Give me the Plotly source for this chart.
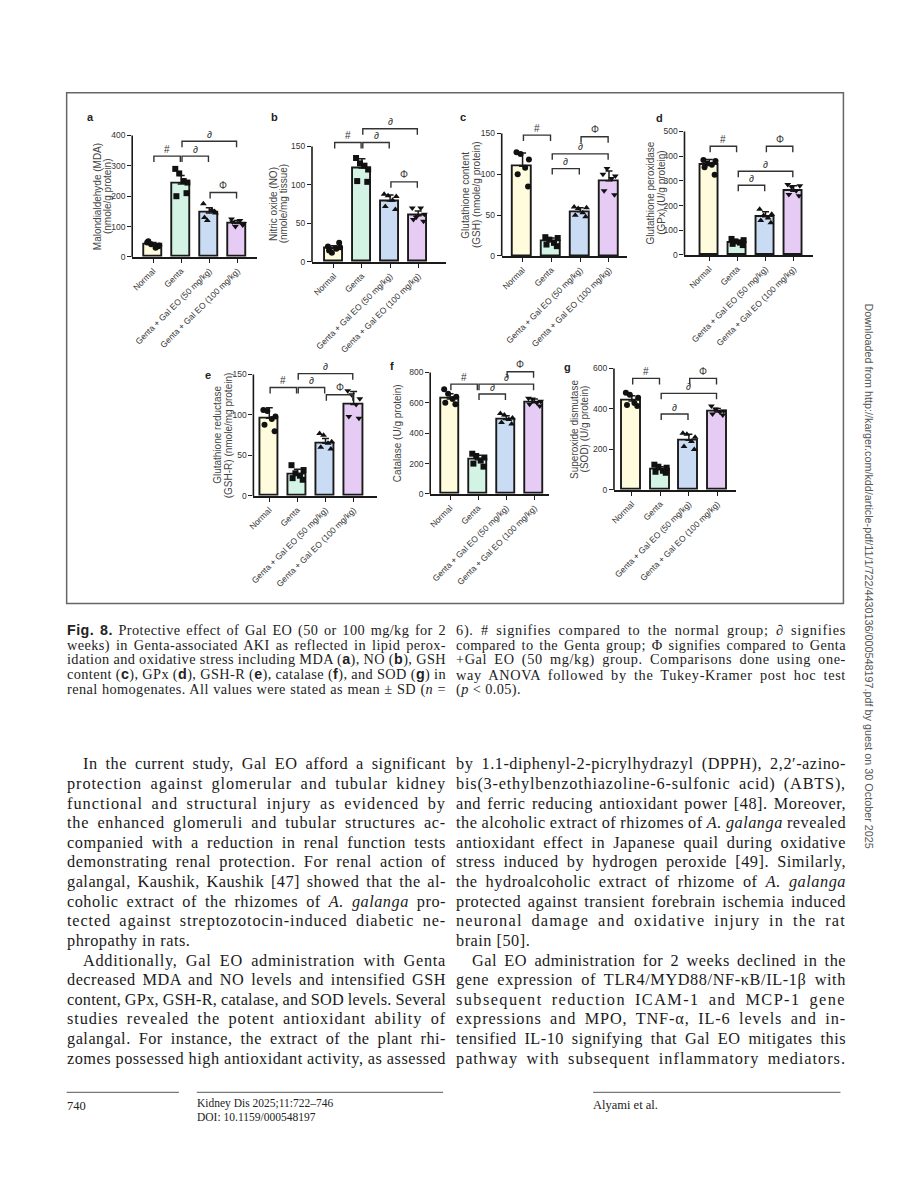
import json
import plotly.graph_objects as go
import numpy as np

W, H = 897, 1200

# ---------------- data ----------------
groups = ["Normal", "Genta", "Genta + Gal EO (50 mg/kg)", "Genta + Gal EO (100 mg/kg)"]
bar_colors = ["#FFFCDD", "#D3F4E5", "#CADBF4", "#E6CBF4"]
point_symbols = ["circle", "square", "triangle-up", "triangle-down"]

mda_mean = [40, 240, 145, 110]
mda_sd = [8, 28, 17, 10]
mda_pts = [[48, 35, 42, 30, 52, 38], [290, 210, 275, 250, 200, 245], [175, 150, 120, 155, 130, 145], [125, 105, 100, 120, 115, 110]]

no_mean = [17, 122, 79, 60]
no_sd = [4, 12, 8, 6]
no_pts = [[20, 25, 12, 17, 15, 19], [135, 104, 128, 125, 105, 120], [88, 68, 86, 80, 72, 85], [70, 53, 58, 70, 55, 62]]

gsh_mean = [110, 18, 54, 92]
gsh_sd = [16, 4, 5, 12]
gsh_pts = [[127, 85, 125, 108, 100, 118], [23, 12, 20, 16, 14, 22], [60, 48, 58, 53, 50, 59], [100, 75, 107, 95, 80, 98]]

gpx_mean = [365, 50, 155, 258]
gpx_sd = [22, 10, 20, 22]
gpx_pts = [[385, 325, 370, 365, 355, 380], [65, 40, 55, 50, 45, 60], [185, 130, 160, 150, 140, 165], [285, 240, 275, 260, 245, 280]]

gshr_mean = [96, 27, 65, 113]
gshr_sd = [13, 6, 6, 16]
gshr_pts = [[106, 80, 105, 95, 88, 98], [38, 20, 28, 25, 22, 32], [77, 58, 75, 65, 60, 67], [130, 96, 125, 113, 98, 120]]

cat_mean = [625, 225, 490, 600]
cat_sd = [35, 30, 25, 25]
cat_pts = [[690, 590, 660, 625, 600, 640], [265, 180, 250, 220, 200, 240], [530, 460, 520, 490, 470, 500], [630, 580, 625, 600, 590, 610]]

sod_mean = [440, 100, 245, 385]
sod_sd = [25, 15, 30, 18]
sod_pts = [[480, 415, 470, 430, 420, 455], [125, 85, 115, 95, 90, 110], [280, 200, 275, 240, 215, 260], [415, 370, 400, 385, 375, 390]]

# significance brackets: (from group, to group, level, symbol)
mda_sig = [(0, 1, 332, "#"), (1, 2, 332, "∂"), (1, 3, 381, "∂"), (2, 3, 212, "Φ")]
no_sig = [(0, 1, 155, "#"), (1, 2, 155, "∂"), (1, 3, 173, "∂"), (2, 3, 104, "Φ")]
gsh_sig = [(0, 1, 148, "#"), (1, 3, 125, "∂"), (1, 2, 107, "∂"), (2, 3, 146, "Φ")]
gpx_sig = [(0, 1, 440, "#"), (1, 3, 339, "∂"), (1, 2, 282, "∂"), (2, 3, 440, "Φ")]
gshr_sig = [(0, 1, 134, "#"), (1, 2, 134, "∂"), (1, 3, 151, "∂"), (2, 3, 125, "Φ")]
cat_sig = [(0, 1, 723, "#"), (1, 3, 723, "∂"), (1, 2, 658, "∂"), (2, 3, 805, "Φ")]
sod_sig = [(0, 1, 551, "#"), (1, 3, 477, "∂"), (1, 2, 375, "∂"), (2, 3, 551, "Φ")]

panel_letters = ["a", "b", "c", "d", "e", "f", "g"]
y_titles = [
    ["Malondialdehyde (MDA)", "(nmole/g protein)"],
    ["Nitric oxide (NO)", "(nmole/mg tissue)"],
    ["Glutathione content", "(GSH) (nmole/g protein)"],
    ["Glutathione peroxidase", "(GPx) (U/g protein)"],
    ["Glutathione reductase", "(GSH-R) (nmole/mg protein)"],
    ["Catalase (U/g protein)"],
    ["Superoxide dismutase", "(SOD) (U/g protein)"],
]
y_tick_tops = [400, 150, 150, 500, 150, 800, 600]
y_tick_steps = [100, 50, 50, 100, 50, 200, 200]

means = [mda_mean, no_mean, gsh_mean, gpx_mean, gshr_mean, cat_mean, sod_mean]
sds = [mda_sd, no_sd, gsh_sd, gpx_sd, gshr_sd, cat_sd, sod_sd]
points = [mda_pts, no_pts, gsh_pts, gpx_pts, gshr_pts, cat_pts, sod_pts]
sigs = [mda_sig, no_sig, gsh_sig, gpx_sig, gshr_sig, cat_sig, sod_sig]

SB = "<span style='font-family:Liberation Sans'><b>%s</b></span>"
caption_left = [
    SB % "Fig. 8." + " Protective effect of Gal EO (50 or 100 mg/kg for 2",
    "weeks) in Genta-associated AKI as reflected in lipid perox-",
    "idation and oxidative stress including MDA (" + SB % "a" + "), NO (" + SB % "b" + "), GSH",
    "content (" + SB % "c" + "), GPx (" + SB % "d" + "), GSH-R (" + SB % "e" + "), catalase (" + SB % "f" + "), and SOD (" + SB % "g" + ") in",
    "renal homogenates. All values were stated as mean ± SD (<i>n</i> =",
]
caption_right = [
    "6). # signifies compared to the normal group; ∂ signifies",
    "compared to the Genta group; Φ signifies compared to Genta",
    "+Gal EO (50 mg/kg) group. Comparisons done using one-",
    "way ANOVA followed by the Tukey-Kramer post hoc test",
    "(<i>p</i> < 0.05).",
]
body_left = [
    "In the current study, Gal EO afford a significant",
    "protection against glomerular and tubular kidney",
    "functional and structural injury as evidenced by",
    "the enhanced glomeruli and tubular structures ac-",
    "companied with a reduction in renal function tests",
    "demonstrating renal protection. For renal action of",
    "galangal, Kaushik, Kaushik [47] showed that the al-",
    "coholic extract of the rhizomes of <i>A. galanga</i> pro-",
    "tected against streptozotocin-induced diabetic ne-",
    "phropathy in rats.",
    "Additionally, Gal EO administration with Genta",
    "decreased MDA and NO levels and intensified GSH",
    "content, GPx, GSH-R, catalase, and SOD levels. Several",
    "studies revealed the potent antioxidant ability of",
    "galangal. For instance, the extract of the plant rhi-",
    "zomes possessed high antioxidant activity, as assessed",
]
body_left_indent = [0, 10]
body_left_last = [9]
body_right = [
    "by 1.1-diphenyl-2-picrylhydrazyl (DPPH), 2,2′-azino-",
    "bis(3-ethylbenzothiazoline-6-sulfonic acid) (ABTS),",
    "and ferric reducing antioxidant power [48]. Moreover,",
    "the alcoholic extract of rhizomes of <i>A. galanga</i> revealed",
    "antioxidant effect in Japanese quail during oxidative",
    "stress induced by hydrogen peroxide [49]. Similarly,",
    "the hydroalcoholic extract of rhizome of <i>A. galanga</i>",
    "protected against transient forebrain ischemia induced",
    "neuronal damage and oxidative injury in the rat",
    "brain [50].",
    "Gal EO administration for 2 weeks declined in the",
    "gene expression of TLR4/MYD88/NF-κB/IL-1β with",
    "subsequent reduction ICAM-1 and MCP-1 gene",
    "expressions and MPO, TNF-α, IL-6 levels and in-",
    "tensified IL-10 signifying that Gal EO mitigates this",
    "pathway with subsequent inflammatory mediators.",
]
body_right_indent = [10]
body_right_last = [9]

# ---------------- layout geometry (page pixels) ----------------
geom = [
    dict(xl=127, xr=253, c0=148, sp=28.3, y0=258, yt=136, tx=[91.5, 101.5], lx=85, ly=117),
    dict(xl=308, xr=443, c0=330, sp=28.3, y0=263, yt=147, tx=[268.5, 279], lx=270, ly=117),
    dict(xl=499, xr=625, c0=520, sp=29.0, y0=257, yt=134, tx=[463, 473.5], lx=460, ly=117),
    dict(xl=683, xr=812, c0=708, sp=28.3, y0=256, yt=132, tx=[648.5, 660], lx=658, ly=118),
    dict(xl=249, xr=373, c0=265, sp=28.3, y0=498, yt=376, tx=[213, 223.5], lx=203, ly=377),
    dict(xl=427, xr=547, c0=447, sp=28.3, y0=496, yt=374, tx=[393.5], lx=389, ly=367),
    dict(xl=612, xr=735, c0=630, sp=28.7, y0=492, yt=370, tx=[572.5, 582], lx=565, ly=368),
]

OFF = 8  # default page body margin in the browser


def px(p):
    return (p - OFF) / W


def py(p):
    return 1 - (p - OFF) / H


EXT = 1.32
offsets = np.array([-0.21, 0.19, -0.07, 0.09, -0.17, 0.22])
LINE = "#1a1a1a"
CHART_FONT = "Liberation Sans"
TEXT_FONT = "Liberation Serif"

fig = go.Figure()
shapes = []
annotations = []
layout_axes = {}
justify = []  # [annotation index, target width, justify?, base letter spacing, max word spacing]

for k in range(7):
    g = geom[k]
    n = "" if k == 0 else str(k + 1)
    xa, ya = "x" + n, "y" + n
    top = y_tick_tops[k]
    ext_top = top * EXT
    dom_top_px = g["y0"] - (g["y0"] - g["yt"]) * EXT
    layout_axes["xaxis" + n] = dict(
        domain=[px(g["xl"]), px(g["xr"])],
        range=[(g["xl"] - g["c0"]) / g["sp"], (g["xr"] - g["c0"]) / g["sp"]],
        anchor=ya, showline=True, linecolor=LINE, linewidth=1.6,
        ticks="outside", ticklen=4, tickwidth=1.4, tickcolor=LINE,
        tickvals=[0, 1, 2, 3], ticktext=groups, tickangle=-45,
        tickfont=dict(family=CHART_FONT, size=8.5, color="#333"),
        showgrid=False, zeroline=False, fixedrange=True,
    )
    layout_axes["yaxis" + n] = dict(
        domain=[py(g["y0"]), py(dom_top_px)],
        range=[0, ext_top], anchor=xa, showline=False,
        ticks="outside", ticklen=4, tickwidth=1.4, tickcolor=LINE,
        tickvals=list(range(0, top + 1, y_tick_steps[k])),
        tickfont=dict(family=CHART_FONT, size=8.5, color="#333"),
        showgrid=False, zeroline=False, fixedrange=True,
    )
    fig.add_trace(go.Bar(
        x=[0, 1, 2, 3], y=means[k], width=0.66,
        marker=dict(color=bar_colors, line=dict(color=LINE, width=1.9)),
        error_y=dict(type="data", array=sds[k], arrayminus=[0, 0, 0, 0], symmetric=False,
                     color=LINE, thickness=1.5, width=3.5),
        xaxis=xa, yaxis=ya, showlegend=False, hoverinfo="skip",
    ))
    for i in range(4):
        fig.add_trace(go.Scatter(
            x=i + offsets, y=points[k][i], mode="markers",
            marker=dict(symbol=point_symbols[i], size=6, color="#111"),
            xaxis=xa, yaxis=ya, showlegend=False, cliponaxis=False, hoverinfo="skip",
        ))
    # y axis line (only up to the top tick)
    shapes.append(dict(type="line", xref=xa + " domain", yref=ya, x0=0, x1=0, y0=0, y1=top,
                       line=dict(color=LINE, width=1.6)))
    drop = 6 * top / (g["y0"] - g["yt"])
    for (i, j, lev, sym) in sigs[k]:
        x0, x1 = i + 0.03, j - 0.03
        shapes.append(dict(type="path", xref=xa, yref=ya,
                           path=f"M {x0},{lev - drop} L {x0},{lev} L {x1},{lev} L {x1},{lev - drop}",
                           line=dict(color="#333", width=1.4)))
        annotations.append(dict(xref=xa, yref=ya, x=(i + j) / 2, y=lev, yshift=7,
                                text=sym, showarrow=False, yanchor="middle",
                                font=dict(family=CHART_FONT, size=10, color="#333")))
    for t, tx in zip(y_titles[k], g["tx"]):
        annotations.append(dict(xref="paper", yref=ya, x=px(tx), y=top / 2, text=t,
                                textangle=-90, showarrow=False, xanchor="center", yanchor="middle",
                                font=dict(family=CHART_FONT, size=10, color="#444")))
    annotations.append(dict(xref="paper", yref="paper", x=px(g["lx"]), y=py(g["ly"]),
                            text="<b>" + panel_letters[k] + "</b>", showarrow=False,
                            xanchor="center", yanchor="middle",
                            font=dict(family=CHART_FONT, size=11, color="#222")))

# figure frame
shapes.append(dict(type="rect", xref="paper", yref="paper", x0=px(61), x1=px(843), y0=py(606), y1=py(93),
                   line=dict(color="#666", width=1.5)))


def add_line(x_left, x_right, y, text, size, color, do_justify, ls, maxws):
    justify.append([len(annotations), x_right - x_left, do_justify, ls, maxws])
    annotations.append(dict(xref="paper", yref="paper", x=px(x_left - 2), y=py(y), text=text,
                            showarrow=False, xanchor="left", yanchor="middle", align="left",
                            font=dict(family=TEXT_FONT, size=size, color=color)))


# caption
for i, t in enumerate(caption_left):
    add_line(61, 440, 633 + 14.8 * i, t, 14.3, "#222", True, 0.4, 3.0)
for i, t in enumerate(caption_right):
    add_line(453, 843, 633 + 14.8 * i, t, 14.3, "#222", i < len(caption_right) - 1, 0.4, 3.0)

# body text
for i, t in enumerate(body_left):
    x0 = 77 if i in body_left_indent else 61
    add_line(x0, 440, 767 + 19.7 * i, t, 16.3, "#1a1a1a", i not in body_left_last, 0.5, 3.5)
for i, t in enumerate(body_right):
    x0 = 469 if i in body_right_indent else 453
    add_line(x0, 843, 767 + 19.7 * i, t, 16.3, "#1a1a1a", i not in body_right_last, 0.5, 3.5)

# footer
for (a, b) in [(61, 174), (192, 440), (591, 840)]:
    shapes.append(dict(type="line", xref="paper", yref="paper", x0=px(a), x1=px(b), y0=py(1097), y1=py(1097),
                       line=dict(color="#777", width=1.2)))
footer = [(61, 1111, "740", 12.5), (192, 1108, "Kidney Dis 2025;11:722–746", 11.5),
          (192, 1122, "DOI: 10.1159/000548197", 11.5), (591, 1110, "Alyami et al.", 12.5)]
for (x0, y0, t, s) in footer:
    annotations.append(dict(xref="paper", yref="paper", x=px(x0 - 2), y=py(y0), text=t, showarrow=False,
                            xanchor="left", yanchor="middle",
                            font=dict(family=TEXT_FONT, size=s, color="#222")))

annotations.append(dict(xref="paper", yref="paper", x=px(869), y=py(578), textangle=90,
                        text="Downloaded from http://karger.com/kdd/article-pdf/11/1/722/4430136/000548197.pdf by guest on 30 October 2025",
                        showarrow=False, xanchor="center", yanchor="middle",
                        font=dict(family=CHART_FONT, size=10.8, color="#555")))

fig.update_layout(
    width=W, height=H, margin=dict(l=0, r=0, t=0, b=0),
    paper_bgcolor="white", plot_bgcolor="rgba(0,0,0,0)",
    shapes=shapes, annotations=annotations, bargap=0, **layout_axes,
)

justify_js = """
var gd = document.getElementById('{plot_id}');
var specs = SPECS;
specs.forEach(function(s) {
  var g = gd.querySelector('g.annotation[data-index="' + s[0] + '"]');
  if (!g) return;
  var t = g.querySelector('text.annotation-text');
  if (!t) return;
  var base = s[3];
  t.style.letterSpacing = base + 'px';
  if (!s[2]) return;
  var txt = t.textContent;
  var nch = txt.length;
  var n = (txt.match(/ /g) || []).length;
  var w = t.getComputedTextLength();
  var extra = s[1] - w;
  if (n === 0) {
    t.style.letterSpacing = (base + extra / nch) + 'px';
    return;
  }
  if (extra > s[4] * n || extra < -0.5 * n) {
    var target = (extra > 0) ? s[4] * n : -0.5 * n;
    var ls = base + (extra - target) / nch;
    t.style.letterSpacing = ls + 'px';
    w = t.getComputedTextLength();
    extra = s[1] - w;
  }
  t.style.wordSpacing = (extra / n) + 'px';
});
""".replace("SPECS", json.dumps(justify))

fig.write_html("out.html", post_script=justify_js)
